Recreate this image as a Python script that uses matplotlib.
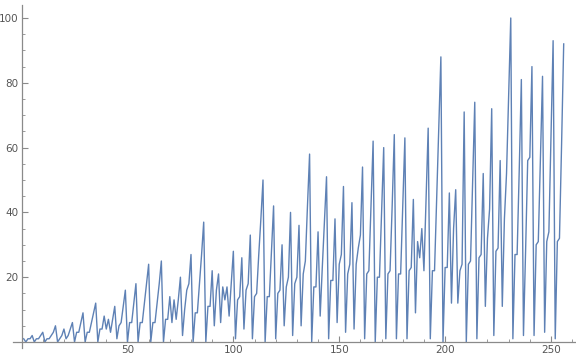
import matplotlib
matplotlib.use("Agg")
import matplotlib.pyplot as plt
from matplotlib.ticker import MultipleLocator

values = [
    1, 0, 1, 1, 2, 0, 1, 1, 2, 3,
    0, 1, 1, 2, 3, 5, 0, 1, 2, 4,
    1, 2, 4, 6, 0, 3, 3, 6, 9, 0,
    3, 3, 6, 9, 12, 0, 4, 4, 8, 4,
    7, 3, 7, 11, 1, 5, 6, 11, 16, 0,
    6, 6, 12, 18, 0, 6, 6, 12, 18, 24,
    0, 6, 6, 12, 18, 25, 0, 7, 7, 14,
    6, 13, 7, 13, 20, 2, 10, 16, 18, 27,
    0, 9, 9, 18, 27, 37, 0, 11, 11, 22,
    5, 16, 21, 6, 17, 13, 17, 8, 18, 28,
    1, 13, 14, 26, 4, 16, 18, 33, 1, 14,
    15, 27, 38, 50, 0, 14, 14, 28, 42, 1,
    15, 16, 30, 5, 17, 20, 40, 2, 18, 20,
    36, 5, 21, 25, 42, 58, 0, 17, 17, 34,
    8, 23, 37, 51, 1, 19, 19, 38, 6, 24,
    27, 48, 3, 21, 24, 43, 4, 24, 29, 33,
    54, 1, 21, 22, 42, 62, 0, 20, 20, 40,
    60, 1, 21, 22, 42, 64, 1, 21, 21, 42,
    63, 1, 22, 23, 44, 9, 31, 26, 35, 22,
    44, 66, 1, 22, 22, 44, 66, 88, 0, 23,
    23, 46, 12, 35, 47, 12, 22, 24, 71, 0,
    24, 25, 50, 74, 1, 26, 27, 52, 11, 32,
    41, 72, 2, 28, 29, 56, 11, 38, 52, 76,
    100, 1, 27, 27, 53, 81, 2, 28, 56, 57,
    85, 2, 30, 31, 57, 82, 3, 31, 34, 63,
    93, 1, 31, 32, 61, 92,
]
x_index = list(range(1, len(values) + 1))
x_ticks = [50, 100, 150, 200, 250]
y_ticks = [20, 40, 60, 80, 100]

fig = plt.figure(figsize=(5.76, 3.6), dpi=100)
ax = fig.add_axes([0.0224, 0.032, 0.975, 0.954])
ax.plot(x_index, values, color="#5E81B5", lw=1.0)

ax.set_xlim(-4.1, 261.1)
ax.set_ylim(-2, 104)
for s in ["top", "right"]:
    ax.spines[s].set_visible(False)
ax.spines["left"].set_position(("data", 0))
ax.spines["bottom"].set_position(("data", 0))
for s in ["left", "bottom"]:
    ax.spines[s].set_color("#8a8a8a")
    ax.spines[s].set_linewidth(0.9)

ax.set_xticks(x_ticks)
ax.set_yticks(y_ticks)
ax.xaxis.set_minor_locator(MultipleLocator(10))
ax.yaxis.set_minor_locator(MultipleLocator(5))
ax.tick_params(axis="both", which="major", direction="in", length=4, width=0.8,
               color="#8a8a8a", labelsize=7.5, labelcolor="#555555", pad=2)
ax.tick_params(axis="both", which="minor", direction="in", length=2.3, width=0.6,
               color="#8a8a8a")
ax.set_facecolor("white")
fig.patch.set_facecolor("white")
fig.savefig("out.png", dpi=100)
